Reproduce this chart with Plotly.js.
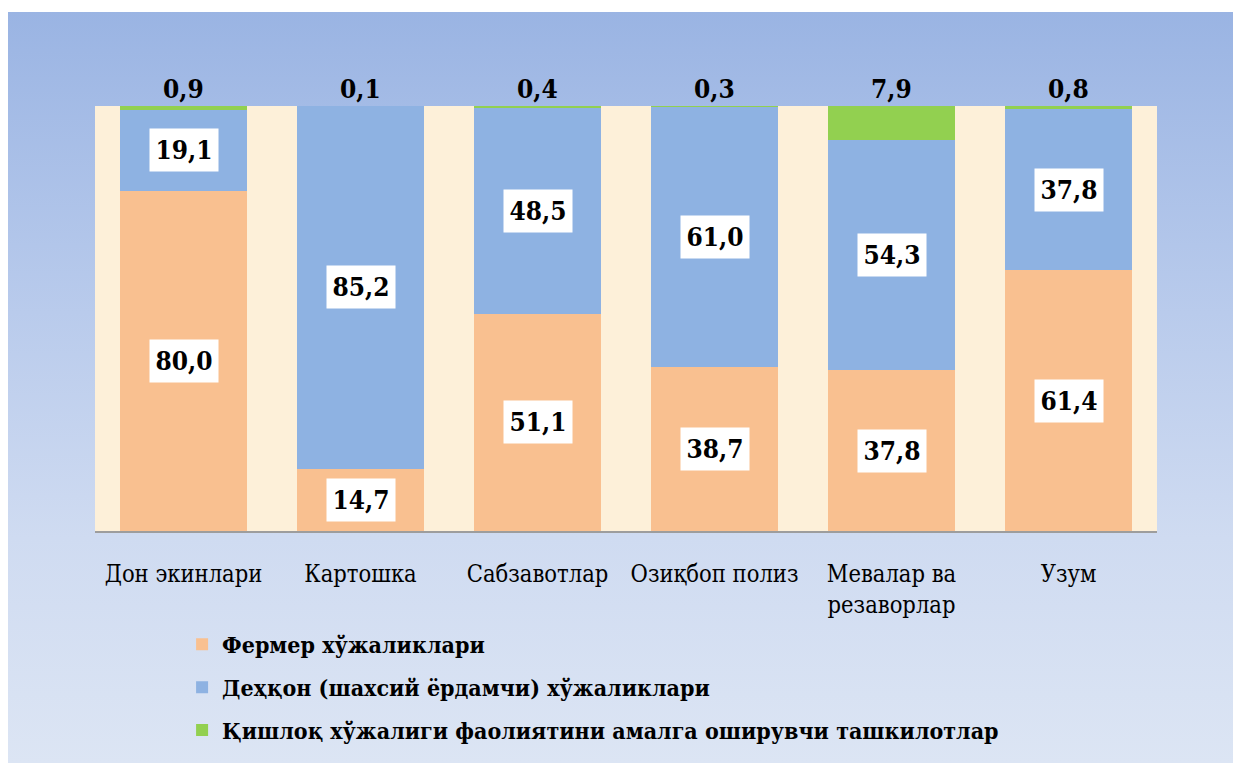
<!DOCTYPE html>
<html>
<head>
<meta charset="utf-8">
<script src="https://cdn.plot.ly/plotly-3.0.1.min.js"></script>
<style>
  html, body { margin: 0; padding: 0; background: #ffffff; }
  #wrap { position: relative; width: 1233px; height: 763px; overflow: hidden; }
  #bg { position: absolute; left: 8px; top: 12px; right: 0; bottom: 0;
        background: linear-gradient(to bottom, #9ab4e3 0%, #b9cbec 40%, #cfdbf1 70%, #dce5f4 100%); }
  #chart { position: absolute; left: 0; top: 0; width: 1233px; height: 763px; }
</style>
</head>
<body>
<div id="wrap"><div id="bg"></div><div id="chart"></div></div>
<script>
const categories = ['Дон экинлари', 'Картошка', 'Сабзавотлар', 'Озиқбоп полиз', 'Мевалар ва<br>резаворлар', 'Узум'];
const seriesNames = ['Фермер хўжаликлари', 'Деҳқон (шахсий ёрдамчи) хўжаликлари', 'Қишлоқ хўжалиги фаолиятини амалга оширувчи ташкилотлар'];
const fermer = [80.0, 14.7, 51.1, 38.7, 37.8, 61.4];
const dehqon = [19.1, 85.2, 48.5, 61.0, 54.3, 37.8];
const tashkilot = [0.9, 0.1, 0.4, 0.3, 7.9, 0.8];
const colors = ['#f9c090', '#8eb2e2', '#92d050'];

const fmt = v => v.toFixed(1).replace('.', ',');
const serif = 'DejaVu Serif Condensed';

const traces = [fermer, dehqon, tashkilot].map((vals, i) => ({
  type: 'bar',
  name: seriesNames[i],
  x: categories,
  y: vals,
  marker: { color: colors[i], line: { width: 0 } },
  legendgroup: 'g' + i,
  hoverinfo: 'skip'
}));

const annotations = [];
categories.forEach((c, j) => {
  annotations.push({
    x: c, y: fermer[j] / 2, xref: 'x', yref: 'y',
    text: '<b>' + fmt(fermer[j]) + '</b>', showarrow: false,
    bgcolor: '#ffffff', borderpad: 5, width: 58, height: 32,
    font: { family: serif, size: 26, color: '#000000' }
  });
  annotations.push({
    x: c, y: fermer[j] + dehqon[j] / 2, xref: 'x', yref: 'y',
    text: '<b>' + fmt(dehqon[j]) + '</b>', showarrow: false,
    bgcolor: '#ffffff', borderpad: 5, width: 58, height: 32,
    font: { family: serif, size: 26, color: '#000000' }
  });
  annotations.push({
    x: c, y: fermer[j] + dehqon[j] + tashkilot[j], xref: 'x', yref: 'y',
    yanchor: 'bottom', yshift: 0,
    text: '<b>' + fmt(tashkilot[j]) + '</b>', showarrow: false,
    font: { family: serif, size: 26, color: '#000000' }
  });
});

const layout = {
  width: 1233, height: 763,
  paper_bgcolor: 'rgba(0,0,0,0)',
  plot_bgcolor: '#fdf0d9',
  margin: { l: 95, r: 76, t: 106, b: 232, autoexpand: false },
  barmode: 'stack',
  bargap: 0.28,
  showlegend: true,
  legend: {
    orientation: 'v', traceorder: 'grouped', tracegroupgap: 10,
    x: 0.082, xanchor: 'left', y: -0.216, yanchor: 'top',
    bgcolor: 'rgba(0,0,0,0)',
    font: { family: serif, size: 23, color: '#000000', weight: 'bold' },
    itemclick: false, itemdoubleclick: false
  },
  xaxis: {
    showline: true, linecolor: '#9d9d9d', linewidth: 2,
    ticks: '', showgrid: false, zeroline: false,
    tickangle: 0,
    ticklabelstandoff: 21,
    tickfont: { family: serif, size: 23.5, color: '#000000' },
    fixedrange: true
  },
  yaxis: {
    range: [0, 100], showgrid: false, zeroline: false, showline: false,
    showticklabels: false, ticks: '', fixedrange: true
  },
  annotations: annotations
};

Plotly.newPlot('chart', traces, layout, { displayModeBar: false, staticPlot: true });
</script>
</body>
</html>
